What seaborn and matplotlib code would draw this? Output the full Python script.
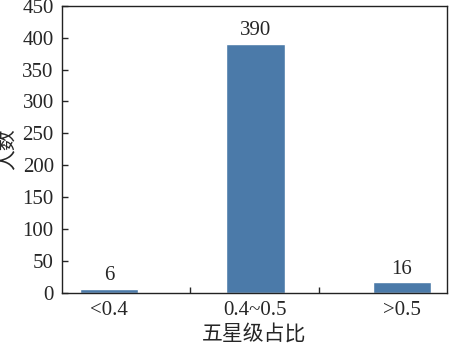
import matplotlib
matplotlib.use("Agg")
import matplotlib.pyplot as plt
import seaborn as sns
import pandas as pd
from matplotlib.ticker import FixedLocator

categories = ["<0.4", "0.4~0.5", ">0.5"]
counts = [6, 390, 16]
yticks = [0, 50, 100, 150, 200, 250, 300, 350, 400, 450]

sns.set_style("white")
plt.rcParams['font.family'] = ['Liberation Serif', 'Noto Sans CJK SC']
plt.rcParams['axes.unicode_minus'] = False

df = pd.DataFrame({"cat": categories, "n": counts})

fig = plt.figure(figsize=(4.5, 3.45), dpi=100)
ax = fig.add_axes([0.138, 0.152, 0.855, 0.831])
sns.barplot(data=df, x="cat", y="n", color="#4b7aa9", saturation=1, width=0.40, ax=ax)

for i, v in enumerate(counts):
    ax.text(i, v + 6, str(v), ha="center", va="bottom", fontsize=15)

x0, x1 = -0.32, 2.307
ax.set_xlim(x0, x1)
ax.set_ylim(0, 450)
ax.set_yticks(yticks)
ax.set_xlabel("五星级占比", fontsize=15, labelpad=3.5)
ax.set_ylabel("人数", fontsize=15, labelpad=3)
ax.tick_params(axis="x", which="major", length=0, labelsize=15, pad=6)
ax.xaxis.set_minor_locator(FixedLocator([x0 + (x1 - x0) / 3, x0 + 2 * (x1 - x0) / 3]))
ax.tick_params(axis="x", which="minor", direction="in", length=4, bottom=True, width=1)
ax.tick_params(axis="y", direction="in", length=4, labelsize=15, left=True, width=1, pad=6)
for s in ax.spines.values():
    s.set_visible(True)
    s.set_color("#222222")
    s.set_linewidth(1)

fig.savefig("out.png", dpi=100)
